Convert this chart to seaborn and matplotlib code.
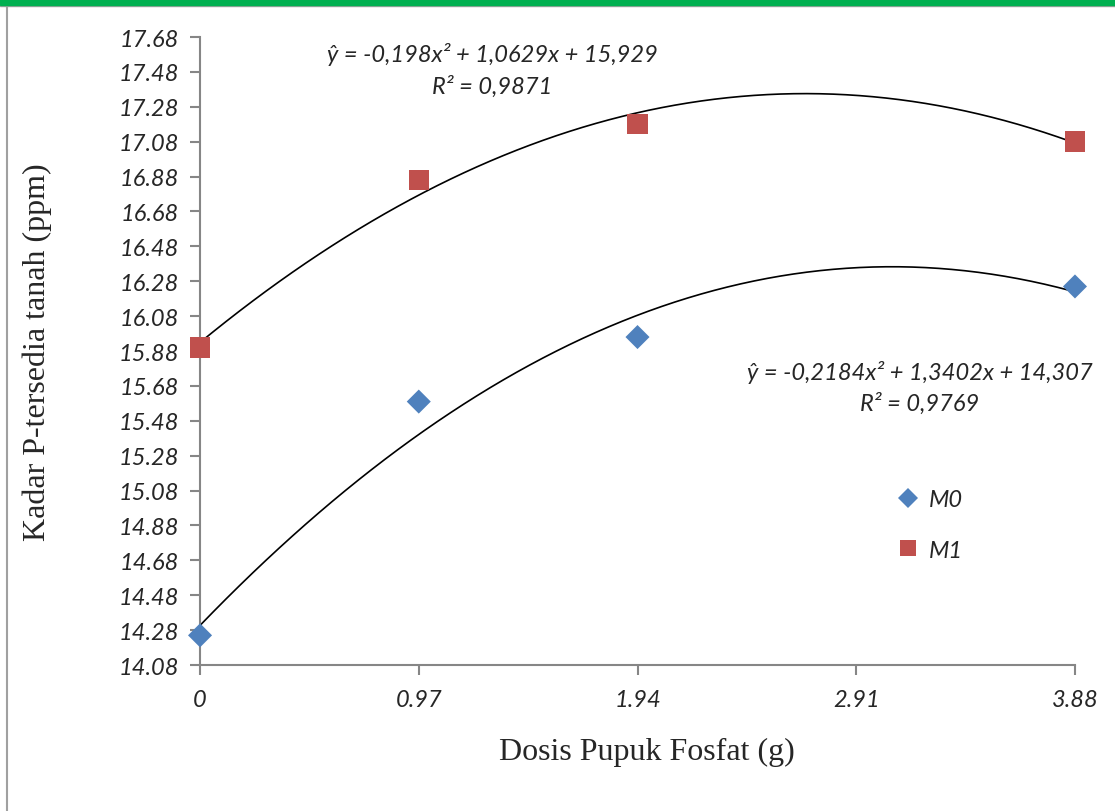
import numpy as np
import pandas as pd
import matplotlib
matplotlib.use("Agg")
import matplotlib.pyplot as plt
import seaborn as sns

# data
dosis = [0, 0.97, 1.94, 3.88]
m0 = [14.25, 15.59, 15.96, 16.25]
m1 = [15.90, 16.86, 17.18, 17.08]
series = ["M0", "M1"]
# trendline coefficients as printed on the chart (a, b, c)
coef_m0 = [-0.2184, 1.3402, 14.307]
coef_m1 = [-0.198, 1.0629, 15.929]
eq_m0 = ["ŷ = -0,2184x² + 1,3402x + 14,307", "R² = 0,9769"]
eq_m1 = ["ŷ = -0,198x² + 1,0629x + 15,929", "R² = 0,9871"]
x_ticks = [0, 0.97, 1.94, 2.91, 3.88]
y_ticks = [14.08, 14.28, 14.48, 14.68, 14.88, 15.08, 15.28, 15.48, 15.68, 15.88,
           16.08, 16.28, 16.48, 16.68, 16.88, 17.08, 17.28, 17.48, 17.68]

df = pd.DataFrame({
    "dosis": dosis * 2,
    "kadar": m0 + m1,
    "seri": [series[0]] * len(m0) + [series[1]] * len(m1),
})

sns.set_style("white")
tick_font = "Lato"
serif_font = "Liberation Serif"

fig = plt.figure(figsize=(11.15, 8.12), dpi=100)
ax = fig.add_axes([0.1794, 0.1798, 0.9641 - 0.1794, 0.9532 - 0.1798])

# trendlines
xs = np.linspace(dosis[0], dosis[-1], 200)
for coef in (coef_m0, coef_m1):
    sns.lineplot(x=xs, y=np.polyval(coef, xs), color="black", lw=1.2, ax=ax, zorder=2)

sns.scatterplot(data=df, x="dosis", y="kadar", hue="seri", style="seri", size="seri",
                palette={"M0": "#4F81BD", "M1": "#C0504D"},
                markers={"M0": "D", "M1": "s"},
                sizes={"M0": 150, "M1": 215}, linewidth=0, ax=ax, zorder=3)

ax.set_xlim(0, 3.88)
ax.set_ylim(14.08, 17.68)
ax.set_xticks(x_ticks)
ax.set_xticklabels(["0", "0.97", "1.94", "2.91", "3.88"])
ax.set_yticks(y_ticks)
ax.set_yticklabels([f"{v:.2f}" for v in y_ticks])
for lab in ax.get_xticklabels() + ax.get_yticklabels():
    lab.set_fontfamily(tick_font)
    lab.set_fontstyle("italic")
    lab.set_fontsize(17)
ax.tick_params(axis="both", direction="out", length=7, width=1.5, color="#868686",
               left=True, bottom=True)
ax.tick_params(axis="y", pad=8)
ax.tick_params(axis="x", pad=10)
for side in ["top", "right"]:
    ax.spines[side].set_visible(False)
for side in ["left", "bottom"]:
    ax.spines[side].set_color("#868686")
    ax.spines[side].set_linewidth(1.5)
for c in ax.collections:
    c.set_clip_on(False)

ax.set_xlabel("Dosis Pupuk Fosfat (g)", fontfamily=serif_font, fontsize=23)
ax.set_ylabel("Kadar P-tersedia tanah (ppm)", fontfamily=serif_font, fontsize=23, labelpad=48)
ax.xaxis.set_label_coords(0.511, -0.115)

# equations
eq_style = dict(fontfamily=tick_font, style="italic", fontsize=17, ha="center", va="center")
ax.text(1.295, 17.583, eq_m1[0], **eq_style)
ax.text(1.295, 17.399, eq_m1[1], **eq_style)
ax.text(3.193, 15.765, eq_m0[0], **eq_style)
ax.text(3.193, 15.581, eq_m0[1], **eq_style)

leg = ax.legend(loc="center left", bbox_to_anchor=(0.771, 0.223), frameon=False,
                prop={"family": tick_font, "style": "italic", "size": 17},
                handlelength=1.0, handletextpad=0.4, labelspacing=1.25, markerscale=0.8)

# outer frame like the source document
fig.patches.append(plt.Rectangle((0, 1 - 6 / 812), 1, 6 / 812, transform=fig.transFigure,
                                 color="#00B050", zorder=5))
fig.lines.append(plt.Line2D([0, 1], [1 - 7 / 812] * 2, transform=fig.transFigure,
                            color="#A0A0A0", lw=1))
fig.lines.append(plt.Line2D([7 / 1115] * 2, [0, 1 - 7 / 812], transform=fig.transFigure,
                            color="#A0A0A0", lw=1.5))

fig.savefig("out.png", dpi=100)
